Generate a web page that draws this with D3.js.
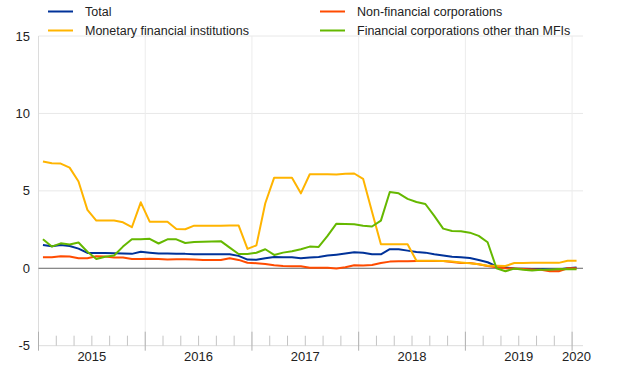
<!DOCTYPE html>
<html>
<head>
<meta charset="utf-8">
<script src="https://cdn.jsdelivr.net/npm/d3@7"></script>
<style>
  body { margin: 0; background: #fff; }
  svg { display: block; font-family: "Liberation Sans", Arial, sans-serif; }
</style>
</head>
<body>
<svg id="chart" width="620" height="387"></svg>
<script>
// monthly observations, Jan 2015 - Jan 2020
var months = d3.timeMonth.range(new Date(2015, 0, 1), new Date(2020, 1, 1));
var yearLabels = ["2015", "2016", "2017", "2018", "2019", "2020"];
var yTicks = [-5, 0, 5, 10, 15];

var total = [1.5, 1.42, 1.5, 1.44, 1.27, 0.99, 0.99, 0.99, 0.97, 0.95, 0.93, 1.07,
  1.01, 0.95, 0.95, 0.93, 0.93, 0.9, 0.9, 0.9, 0.9, 0.9, 0.8, 0.56,
  0.55, 0.65, 0.73, 0.71, 0.71, 0.65, 0.69, 0.73, 0.82, 0.88, 0.95, 1.03,
  1.0, 0.9, 0.9, 1.23, 1.23, 1.14, 1.05, 1.01, 0.9, 0.82, 0.75, 0.71,
  0.66, 0.54, 0.39, 0.12, 0.05, -0.02, -0.03, -0.05, -0.05, -0.08, -0.08, 0.0,
  0.05];
var nfc = [0.71, 0.71, 0.78, 0.76, 0.65, 0.65, 0.78, 0.76, 0.69, 0.69, 0.6, 0.6,
  0.62, 0.6, 0.56, 0.58, 0.58, 0.56, 0.54, 0.54, 0.54, 0.65, 0.54, 0.36,
  0.33, 0.28, 0.19, 0.15, 0.13, 0.13, 0.04, 0.04, 0.04, -0.02, 0.06, 0.19,
  0.18, 0.21, 0.34, 0.43, 0.45, 0.45, 0.47, 0.47, 0.47, 0.47, 0.41, 0.34,
  0.34, 0.26, 0.15, 0.06, 0.0, -0.02, -0.05, -0.08, -0.1, -0.2, -0.2, 0.0,
  0.0];
var mfi = [6.89, 6.78, 6.76, 6.5, 5.6, 3.77, 3.08, 3.08, 3.08, 2.97, 2.65, 4.26,
  3.01, 3.01, 3.01, 2.54, 2.52, 2.75, 2.75, 2.75, 2.75, 2.77, 2.77, 1.25,
  1.48, 4.2, 5.85, 5.85, 5.85, 4.84, 6.07, 6.07, 6.07, 6.05, 6.1, 6.12,
  5.78, 3.65, 1.55, 1.55, 1.55, 1.55, 0.48, 0.48, 0.48, 0.47, 0.44, 0.38,
  0.32, 0.26, 0.17, 0.16, 0.15, 0.34, 0.34, 0.35, 0.35, 0.36, 0.35, 0.48,
  0.48];
var ofc = [1.87, 1.4, 1.61, 1.53, 1.66, 1.07, 0.6, 0.75, 0.82, 1.4, 1.87, 1.87,
  1.9, 1.6, 1.87, 1.87, 1.63, 1.7, 1.72, 1.73, 1.75, 1.33, 0.92, 0.92,
  1.0, 1.23, 0.86, 1.01, 1.1, 1.23, 1.4, 1.38, 2.09, 2.88, 2.86, 2.84,
  2.74, 2.7, 3.08, 4.93, 4.84, 4.48, 4.28, 4.15, 3.38, 2.56, 2.41, 2.39,
  2.3, 2.09, 1.68, 0.0, -0.19, -0.02, -0.1, -0.15, -0.1, -0.1, -0.05, -0.07,
  -0.07];

var series = [
  {name: "Total", values: total, color: "#003299"},
  {name: "Non-financial corporations", values: nfc, color: "#ff4b00"},
  {name: "Monetary financial institutions", values: mfi, color: "#ffb400"},
  {name: "Financial corporations other than MFIs", values: ofc, color: "#65b800"}
];

var svg = d3.select("#chart");
var plotLeft = 38.5, plotRight = 581, plotTop = 36, plotBottom = 345.7;

var x = d3.scaleBand().domain(months).range([plotLeft, plotRight]);
var y = d3.scaleLinear().domain([-5, 15]).range([plotBottom, plotTop]);

/*  GRID   */
var grid = svg.append("g");
grid.selectAll("line.h").data(yTicks.filter(function(d) { return d > 0; }))
  .enter().append("line")
  .attr("x1", plotLeft).attr("x2", plotRight + 2)
  .attr("y1", function(d) { return y(d); }).attr("y2", function(d) { return y(d); })
  .attr("stroke", "#e8e8e8").attr("stroke-width", 1);

var januaries = months.filter(function(d) { return d.getMonth() === 0; });
grid.selectAll("line.v").data(januaries.slice(1))
  .enter().append("line")
  .attr("x1", function(d) { return x(d); }).attr("x2", function(d) { return x(d); })
  .attr("y1", plotTop).attr("y2", plotBottom)
  .attr("stroke", "#ececec").attr("stroke-width", 1);

// left edge and bottom axis line
svg.append("line").attr("x1", plotLeft).attr("x2", plotLeft).attr("y1", plotTop).attr("y2", plotBottom)
  .attr("stroke", "#dcdcdc");
svg.append("line").attr("x1", plotLeft).attr("x2", plotRight + 2).attr("y1", plotBottom).attr("y2", plotBottom)
  .attr("stroke", "#dcdcdc");

// ticks: year boundaries tall, every other month short
var tickG = svg.append("g");
tickG.selectAll("line").data(months.filter(function(d) { return d.getMonth() % 2 === 0; }))
  .enter().append("line")
  .attr("x1", function(d) { return x(d); }).attr("x2", function(d) { return x(d); })
  .attr("y1", function(d) { return d.getMonth() === 0 ? plotBottom - 14 : plotBottom - 10; })
  .attr("y2", function(d) { return d.getMonth() === 0 ? plotBottom + 5 : plotBottom; })
  .attr("stroke", function(d) { return d.getMonth() === 0 ? "#b0b0b0" : "#c4c4c4"; })
  .attr("stroke-width", 1);

// zero line
svg.append("line").attr("x1", plotLeft).attr("x2", plotRight + 2).attr("y1", y(0)).attr("y2", y(0))
  .attr("stroke", "#666").attr("stroke-width", 1);

/*  AXIS LABELS   */
svg.append("g").selectAll("text").data(yTicks).enter().append("text")
  .attr("x", 30).attr("y", function(d) { return y(d) + 4.5; })
  .attr("text-anchor", "end").attr("font-size", 13).attr("fill", "#222")
  .text(function(d) { return d; });

svg.append("g").selectAll("text").data(januaries).enter().append("text")
  .attr("x", function(d, i) {
    if (i === januaries.length - 1) return x(d) + x.bandwidth() / 2;
    return x(d) + x.bandwidth() * 6;
  })
  .attr("y", 361)
  .attr("text-anchor", "middle").attr("font-size", 13).attr("fill", "#222")
  .text(function(d, i) { return yearLabels[i]; });

/*  LINES   */
var line = d3.line()
  .x(function(d, i) { return x(months[i]) + x.bandwidth() / 2; })
  .y(function(d) { return y(d); });

svg.append("g").selectAll("path").data(series).enter().append("path")
  .attr("d", function(s) { return line(s.values); })
  .attr("fill", "none")
  .attr("stroke", function(s) { return s.color; })
  .attr("stroke-width", 2)
  .attr("stroke-linejoin", "round");

/*  LEGEND   */
var legendPos = [[48, 11.5], [320, 11.5], [48, 30.5], [320, 30.5]];
var legend = svg.append("g").selectAll("g").data(series).enter().append("g")
  .attr("transform", function(d, i) { return "translate(" + legendPos[i][0] + "," + legendPos[i][1] + ")"; });
legend.append("line").attr("x1", 0).attr("x2", 25).attr("y1", 0).attr("y2", 0)
  .attr("stroke", function(d) { return d.color; }).attr("stroke-width", 2);
legend.append("text").attr("x", 37).attr("y", 4.5)
  .attr("font-size", 12.5).attr("fill", "#222")
  .text(function(d) { return d.name; });
</script>
</body>
</html>
